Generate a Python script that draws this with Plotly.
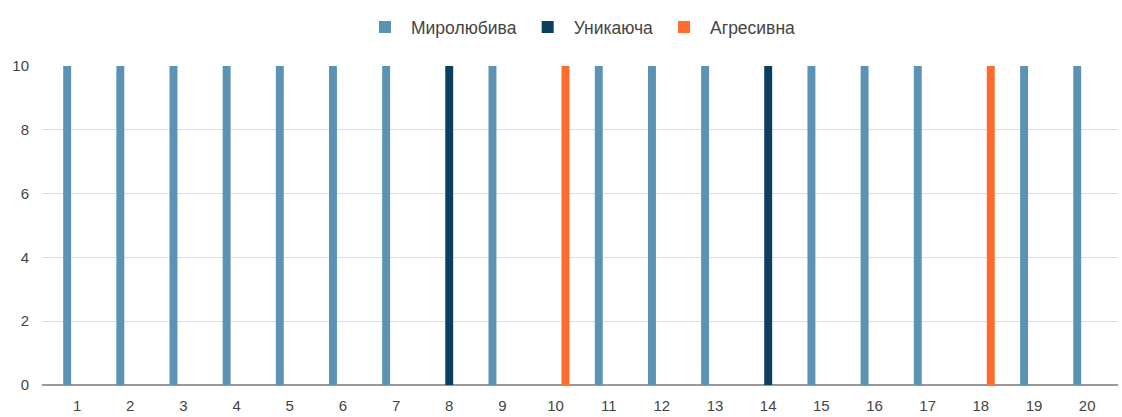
import plotly.graph_objects as go

categories = [str(i) for i in range(1, 21)]
miroliubyva = [10, 10, 10, 10, 10, 10, 10, 0, 10, 0, 10, 10, 10, 0, 10, 10, 10, 0, 10, 10]
unikaiucha = [0, 0, 0, 0, 0, 0, 0, 10, 0, 0, 0, 0, 0, 10, 0, 0, 0, 0, 0, 0]
agresyvna = [0, 0, 0, 0, 0, 0, 0, 0, 0, 10, 0, 0, 0, 0, 0, 0, 0, 10, 0, 0]

series = [
    ("Миролюбива", miroliubyva, "#5a93b3"),
    ("Уникаюча", unikaiucha, "#0b3f5f"),
    ("Агресивна", agresyvna, "#ff6b2b"),
]

fig = go.Figure()
for name, vals, color in series:
    fig.add_trace(go.Bar(x=categories, y=vals, name=name, marker_color=color,
                         marker_line_width=0))

font = dict(family="Liberation Sans, Arial, sans-serif", size=15, color="#444444")
fig.update_layout(
    width=1122, height=417,
    margin=dict(l=42, r=4, t=66, b=32, autoexpand=False),
    barmode="group",
    bargap=0.44,
    bargroupgap=0.2,
    plot_bgcolor="white",
    paper_bgcolor="white",
    font=font,
    legend=dict(orientation="h", x=0.5, xanchor="center", y=0.935, yanchor="middle",
                yref="container", font=dict(size=17.5, color="#444444"),
                itemwidth=42, traceorder="normal"),
    xaxis=dict(type="category", range=[-0.66, 19.58], showgrid=False,
               showline=False, ticks="", tickfont=dict(size=15, color="#444444"),
               zeroline=False, ticklabelstandoff=10, automargin=False),
    yaxis=dict(range=[0, 10], dtick=2, showgrid=True, gridcolor="#dddddd",
               gridwidth=1, zeroline=True, zerolinecolor="#999999", zerolinewidth=1.5,
               tickfont=dict(size=15, color="#444444"), ticks="", showline=False,
               ticklabelstandoff=12, automargin=False),
)

fig.write_html("out.html")
